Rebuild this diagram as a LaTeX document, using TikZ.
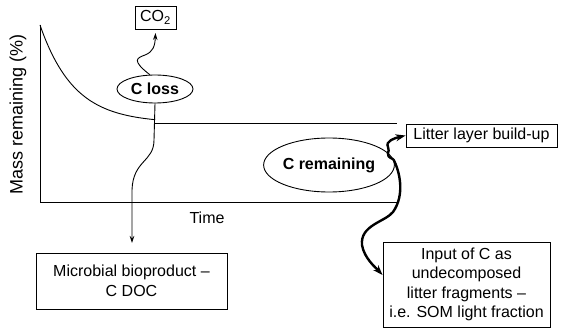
\documentclass[tikz,border=0pt]{standalone}
\usepackage{fontspec}
\setmainfont{Liberation Sans}
\usetikzlibrary{arrows.meta,shapes.geometric}

\begin{document}
\begin{tikzpicture}[x=1pt,y=-1pt,line width=0.9pt,
  every node/.style={font=\fontsize{16}{19.5}\selectfont,inner sep=0pt},
  box/.style={draw,rectangle,align=center},
  pool/.style={draw,ellipse,font=\fontsize{16}{19.5}\selectfont\bfseries},
  thin arrow/.style={-{Stealth[length=7pt,width=4.5pt]}},
  thick arrow/.style={line width=2.4pt,-{Stealth[length=10pt,width=7pt]}}]
\useasboundingbox (0,0) rectangle (561,331);
% axes and decay curve
\draw (40,25) coordinate (ytop) -- (40,202) coordinate (origin) -- (397,202) coordinate (xend);
\draw[domain=0:115,samples=60,smooth] plot ({40+\x},{123-98*exp(-\x/34)});
\draw (155,123) -- (397,123) coordinate (plateau);
\node[rotate=90,font=\fontsize{18}{21}\selectfont] (ylabel) at (18,114) {Mass remaining (\%)};
\node (xlabel) at (207,218) {Time};
% pools
\node[pool,minimum width=76pt,minimum height=28pt] (loss) at (155,89) {C loss};
\node[pool,minimum width=116pt,minimum height=54pt] (remain) at (329,165) {C remaining};
% boxes
\node[box,minimum width=41pt,minimum height=23pt] (co2) at (155.5,17.5) {CO\textsubscript{2}};
\node[box,minimum width=191pt,minimum height=56pt] (doc) at (131.5,281) {Microbial bioproduct --\\C DOC};
\node[box,minimum width=151pt,minimum height=23pt] (litter) at (481.5,135.5) {Litter layer build-up};
\node[box,minimum width=167pt,minimum height=85pt] (som) at (466.5,284.5)
  {Input of C as\\undecomposed\\litter fragments --\\i.e. SOM light fraction};
% fluxes
\draw[thin arrow] (loss.110) .. controls (131,60) and (137,58) .. (145,55)
  .. controls (153,52) and (155,46) .. (co2.south |- 0,33);
\draw[thin arrow] (loss.south) -- (154,140) .. controls (154,162) and (133,160) .. (132,190)
  -- (132,243);
\draw[thick arrow] (remain.5) .. controls (383,155) and (391,152) .. (388,147)
  .. controls (385,141) and (395,138) .. (litter.west);
\draw[thick arrow] (remain.5) .. controls (400,172) and (405,195) .. (393,212)
  .. controls (385,222) and (360,225) .. (362,245) .. controls (364,258) and (376,268) .. (som.west |- 0,275);
\end{tikzpicture}
\end{document}
